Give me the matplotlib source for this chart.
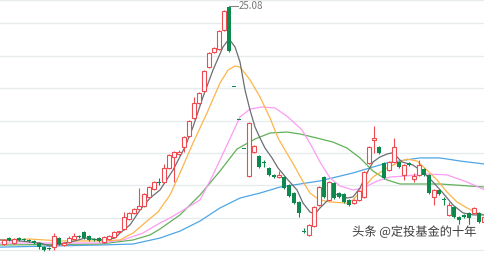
import matplotlib.pyplot as plt
import matplotlib.patheffects as pe

plt.rcParams['font.family'] = ['Noto Sans CJK SC', 'DejaVu Sans']

# daily OHLC (one entry per trading day)
opens = [10.37, 10.74, 10.43, 10.74, 10.68, 10.62, 10.56, 10.43, 10.18, 10.12,
         10.18, 10.74, 10.31, 10.49, 10.68, 10.86, 11.11, 10.86, 10.68, 10.74,
         10.49, 10.68, 10.80, 11.14, 11.30, 11.92, 12.29, 12.53, 12.72, 13.28,
         13.77, 14.20, 14.20, 15.07, 15.75, 15.93, 16.37, 17.05, 18.16, 19.09,
         19.83, 21.31, 22.24, 22.42, 23.60, 25.02, 20.06, 18.05, 16.25, 14.57,
         16.06, 15.81, 15.40, 15.07, 14.64, 14.51, 14.51, 14.02, 13.52, 12.97,
         11.14, 10.93, 11.48, 12.78, 14.51, 13.09, 14.14, 13.52, 13.46, 13.09,
         12.90, 13.09, 13.28, 15.38, 16.80, 16.37, 15.38, 14.94, 15.44, 15.44,
         14.64, 15.38, 14.39, 14.64, 15.01, 14.64, 13.28, 13.71, 13.15, 12.17,
         12.66, 12.04, 12.17, 12.29, 12.29, 12.29, 11.73]
closes = [10.62, 10.62, 10.68, 10.62, 10.62, 10.56, 10.43, 10.18, 10.00, 10.06,
          10.86, 10.37, 10.43, 10.74, 10.86, 10.80, 10.74, 10.62, 10.62, 10.56,
          10.80, 10.86, 11.11, 11.17, 12.04, 12.29, 12.53, 12.72, 13.46, 13.89,
          14.20, 14.14, 15.07, 15.87, 16.06, 16.06, 16.98, 17.97, 19.09, 19.70,
          21.06, 22.17, 22.48, 23.53, 24.77, 22.29, 20.06, 18.05, 16.25, 17.85,
          16.43, 15.13, 15.36, 14.64, 14.51, 14.64, 13.83, 13.34, 12.90, 12.29,
          11.11, 11.55, 12.66, 13.89, 13.28, 14.20, 13.22, 13.28, 12.97, 12.78,
          13.09, 13.65, 14.82, 16.37, 16.92, 16.00, 14.45, 15.44, 16.37, 15.13,
          15.25, 15.25, 14.57, 15.25, 14.64, 13.52, 13.71, 13.46, 13.09, 12.78,
          12.04, 11.86, 12.04, 11.98, 12.60, 11.73, 12.04]
highs = [10.68, 10.80, 10.74, 10.80, 10.74, 10.68, 10.62, 10.49, 10.25, 10.18,
         11.05, 10.80, 10.49, 10.86, 11.05, 10.93, 11.17, 10.93, 10.74, 10.80,
         10.86, 10.93, 11.17, 11.20, 12.35, 12.35, 12.60, 13.83, 13.52, 13.96,
         14.26, 14.45, 15.31, 15.93, 16.12, 16.18, 17.05, 18.03, 19.46, 19.77,
         21.12, 22.24, 22.55, 23.60, 24.83, 25.08, 20.06, 18.05, 16.25, 17.91,
         16.49, 15.87, 15.56, 15.13, 14.70, 14.88, 14.57, 14.08, 13.58, 13.03,
         11.36, 11.61, 12.72, 13.96, 14.57, 14.26, 14.20, 13.58, 13.52, 13.15,
         13.15, 13.71, 14.88, 16.43, 17.66, 16.43, 15.44, 15.50, 16.92, 15.50,
         15.31, 15.44, 14.76, 15.56, 15.07, 14.70, 13.77, 13.77, 13.28, 12.97,
         12.72, 12.10, 12.23, 12.35, 12.66, 12.35, 12.10]
lows = [10.31, 10.56, 10.37, 10.56, 10.56, 10.49, 10.37, 10.06, 9.94, 10.00,
        10.00, 10.31, 10.25, 10.43, 10.62, 10.74, 10.68, 10.56, 10.56, 10.49,
        10.43, 10.62, 10.74, 11.11, 11.24, 11.86, 12.23, 12.47, 12.66, 13.22,
        13.71, 14.02, 14.14, 15.01, 14.20, 15.87, 16.06, 16.98, 18.10, 19.03,
        19.77, 21.25, 22.17, 22.36, 23.53, 22.24, 20.06, 18.05, 16.25, 14.51,
        16.00, 15.07, 15.13, 14.57, 14.45, 14.45, 13.77, 13.28, 12.84, 12.04,
        11.05, 10.86, 11.42, 12.72, 13.22, 13.03, 13.15, 13.22, 12.90, 12.72,
        12.84, 13.03, 13.22, 15.31, 16.00, 15.93, 14.39, 14.88, 15.38, 15.07,
        14.33, 15.19, 14.20, 14.57, 14.57, 13.46, 12.78, 13.40, 12.78, 12.10,
        11.98, 11.36, 11.98, 11.55, 12.23, 11.67, 11.67]

# moving averages: (day index, price)
ma5_x = [-0.8, 3.2, 7.2, 9.2, 11.2, 14.2, 16.2, 19.2, 22.2, 23.2, 25.2, 27.2, 29.2,
         31.2, 33.8, 36.2, 37.8, 39.8, 41.8, 43.8, 45.0, 46.2, 47.2, 48.2, 49.2,
         50.2, 51.2, 52.2, 53.6, 54.8, 56.8, 58.6, 59.8, 61.2, 62.2, 63.2, 64.2,
         65.8, 67.2, 68.6, 69.8, 71.2, 72.6, 73.8, 75.2, 76.6, 77.6, 78.6, 79.6,
         81.8, 83.8, 85.8, 87.8, 89.8, 91.8, 93.8, 96.2]
ma5_y = [10.62, 10.56, 10.43, 10.25, 10.37, 10.56, 10.74, 10.62, 10.74, 11.05,
         11.55, 12.47, 13.21, 13.71, 14.94, 16.37, 17.60, 19.46, 21.12, 22.55,
         23.04, 22.55, 21.62, 19.89, 18.65, 17.60, 16.92, 16.30, 15.69, 15.07,
         14.33, 13.71, 12.90, 12.35, 12.23, 12.60, 12.90, 13.40, 13.46, 13.21,
         13.28, 13.83, 14.76, 15.44, 15.75, 15.93, 16.00, 15.75, 15.44, 15.25,
         14.82, 14.20, 13.52, 12.78, 12.29, 12.17, 12.17]
ma10_x = [-0.8, 5.2, 11.2, 19.2, 23.2, 25.8, 28.6, 30.8, 33.2, 35.2, 37.8, 40.6,
          43.2, 44.8, 46.2, 47.2, 49.2, 51.2, 53.2, 54.8, 56.2, 58.2, 59.6, 61.2,
          62.8, 64.2, 65.2, 68.6, 69.8, 71.2, 73.8, 76.6, 79.2, 80.6, 82.6, 84.6,
          86.6, 88.6, 90.6, 92.6, 94.6, 96.2]
ma10_y = [10.62, 10.68, 10.56, 10.56, 10.62, 11.05, 11.79, 12.35, 13.40, 14.76,
          16.61, 18.47, 20.32, 21.12, 21.37, 21.31, 20.51, 19.46, 18.16, 16.92,
          16.18, 15.13, 14.33, 13.52, 13.15, 13.03, 12.97, 12.90, 13.09, 13.58,
          14.51, 15.07, 15.44, 15.62, 15.50, 14.94, 14.33, 13.58, 12.97, 12.60,
          12.29, 12.17]
ma20_x = [-0.8, 19.2, 23.8, 27.8, 31.2, 33.2, 39.2, 41.8, 44.6, 47.2, 49.2, 51.6,
          54.2, 56.8, 59.6, 61.6, 63.2, 65.2, 67.2, 69.8, 71.8, 74.6, 77.2, 80.2,
          84.6, 88.6, 92.6, 96.2]
ma20_y = [10.43, 10.43, 10.62, 11.05, 11.67, 11.98, 13.09, 14.64, 16.49, 18.22,
          18.71, 18.84, 18.78, 18.22, 17.42, 16.37, 15.44, 14.45, 13.96, 13.71,
          13.83, 14.26, 14.51, 14.57, 14.70, 14.64, 14.20, 13.71]
ma30_x = [-0.8, 19.2, 25.8, 29.2, 31.2, 35.2, 39.2, 43.2, 46.6, 50.2, 53.2, 56.6,
          59.2, 62.6, 65.8, 68.6, 71.2, 73.8, 76.6, 79.2, 87.2, 96.2]
ma30_y = [10.31, 10.37, 10.62, 10.93, 11.30, 12.17, 13.40, 14.88, 16.24, 16.86,
          17.23, 17.29, 17.17, 16.92, 16.67, 16.30, 15.69, 14.88, 14.33, 14.08,
          14.08, 13.89]
ma60_x = [-0.8, 19.2, 25.8, 31.2, 35.2, 39.2, 43.2, 47.2, 51.2, 55.2, 59.2, 63.2,
          69.8, 73.8, 76.6, 80.2, 83.2, 87.2, 91.2, 96.2]
ma60_y = [10.18, 10.31, 10.37, 10.74, 11.17, 11.79, 12.60, 13.21, 13.52, 13.89,
          14.08, 14.27, 14.76, 15.13, 15.38, 15.56, 15.69, 15.69, 15.50, 15.31]

peak_label = "25.08"
watermark = "头条 @定投基金的十年"

up_color = '#ef4a4f'
down_color = '#0c8a4e'

fig = plt.figure(figsize=(4.85, 2.56), dpi=100)
ax = fig.add_axes([0, 0, 1, 1])

for g in range(10, 25, 2):
    ax.axhline(g, color='#e8ebee', lw=1, zorder=0)
ax.axhline(25.42, color='#e8ebee', lw=1, zorder=0)

# moving averages
ax.plot(ma60_x, ma60_y, color='#4ea6e6', lw=0.9, zorder=1)
ax.plot(ma30_x, ma30_y, color='#62b05a', lw=0.9, zorder=1)
ax.plot(ma20_x, ma20_y, color='#fb9cf4', lw=0.9, zorder=1)
ax.plot(ma10_x, ma10_y, color='#fdb54a', lw=0.9, zorder=1)
ax.plot(ma5_x, ma5_y, color='#6b6f73', lw=0.9, zorder=1)

# candles
w = 0.68
for i in range(len(opens)):
    o, c, h, l = opens[i], closes[i], highs[i], lows[i]
    prev = closes[i - 1] if i > 0 else o
    up = c > o or (c == o and c >= prev)
    lo, hi = min(o, c), max(o, c)
    body = max(hi - lo, 0.05)
    if up:
        ax.vlines(i, hi, h, color=up_color, lw=0.8, zorder=2)
        ax.vlines(i, l, lo, color=up_color, lw=0.8, zorder=2)
        ax.bar(i, body, bottom=lo, width=w, facecolor='white',
               edgecolor=up_color, linewidth=0.8, zorder=3)
    else:
        ax.vlines(i, l, h, color=down_color, lw=0.8, zorder=2)
        ax.bar(i, body, bottom=lo, width=w, color=down_color,
               linewidth=0, zorder=3)

# peak label
pk = highs.index(max(highs))
ax.plot([pk, pk + 1.8], [highs[pk], highs[pk]], color='#888888', lw=0.8, zorder=4)
ax.text(pk + 1.9, highs[pk], peak_label, fontsize=7, color='#777777',
        va='center', ha='left', zorder=4)

ax.text(0.726, 0.094, watermark, transform=ax.transAxes, fontsize=8.8,
        color='#3a3a3a', va='center', ha='left', zorder=5,
        path_effects=[pe.withStroke(linewidth=2, foreground='white')])

ax.set_xlim(-0.8, 96.2)
ax.set_ylim(9.63, 25.45)
ax.axis('off')

fig.savefig('out.png', dpi=100)
